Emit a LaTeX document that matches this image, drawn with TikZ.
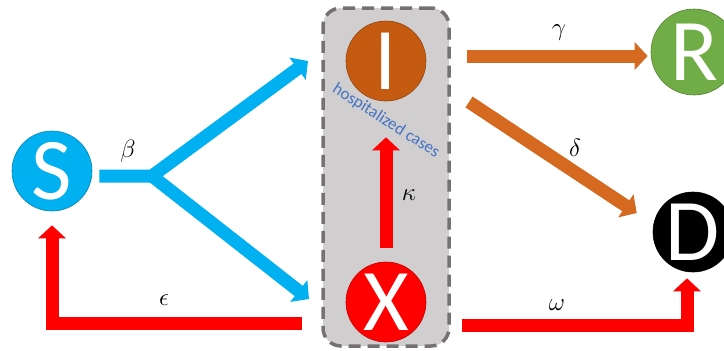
\RequirePackage{fix-cm}
\documentclass[tikz,border=0pt]{standalone}
\usepackage{fontspec}
\newfontfamily\letterfont{Carlito}
\usetikzlibrary{arrows.meta,calc}
\definecolor{sblue}{HTML}{00B0F0}
\definecolor{iorange}{HTML}{C55A11}
\definecolor{aorange}{HTML}{D5691F}
\definecolor{rgreen}{HTML}{70AD47}
\definecolor{boxgray}{HTML}{D0CECE}
\definecolor{dashgray}{HTML}{767171}
\definecolor{txtblue}{HTML}{4472C4}
\begin{document}
\begin{tikzpicture}[x=1pt,y=-1pt,
  state/.style={circle, draw=#1!75!black, line width=0.6pt, fill=#1, minimum size=80pt,
    inner sep=0pt, text=white, font=\letterfont\fontsize{88}{88}\selectfont},
  flow/.style={line width=13pt, -{Triangle[length=13pt,width=27pt]}, line join=miter, draw=#1},
  lbl/.style={inner sep=0pt, font=\fontsize{25}{25}\selectfont},
  casebox/.style={draw=dashgray, fill=boxgray, line width=3.5pt, dash pattern=on 12pt off 7pt,
    rounded corners=18pt, minimum width=126pt, minimum height=338pt}]
\useasboundingbox (0,0) rectangle (724,351);
\clip (0,0) rectangle (724,351);
\node[casebox] (box) at (386,177) {};
\node[state=sblue] (S) at (52,171) {S};
\node[state=iorange] (I) at (386,61) {I};
\node[state=red] (X) at (386,302) {X};
\node[state=rgreen, minimum size=86pt] (R) at (694,52) {R};
\node[state=black] (D) at (693,232) {D};
\node[rotate=-32.5, text=txtblue, font=\letterfont\fontsize{17}{17}\selectfont, inner sep=0pt] (hc) at (386,121) {hospitalized cases};
% coordinates
\coordinate (J) at (152,176);
\coordinate (Jin) at ($(S.east |- J)+(7,0)$);
\coordinate (It) at (308,61);
\coordinate (Xt) at (309,299);
\coordinate (e0) at (302,323);
\coordinate (g0) at (467,56);
\coordinate (d0) at (469,102);
\coordinate (w0) at (462,325);
% flows
\draw[flow=sblue, line join=round] (Jin) -- (J) -- (It);
\draw[flow=sblue, line cap=round] (J) -- (Xt);
\draw[flow=red] (e0) -| ($(S.south)+(0,14)$);
\draw[flow=red] ($(X.north)+(0,-14)$) -- ($(I.south)+(0,36)$);
\draw[flow=aorange] (g0) -- ($(R.west)+(-3,4)$);
\draw[flow=aorange] (d0) -- ($(D.west)+(-16,-19)$);
\draw[flow=red] (w0) -| ($(D.south)+(-6,6)$);
% labels
\node[lbl] (lb) at (128,151) {$\beta$};
\node[lbl] (le) at (164,300) {$\epsilon$};
\node[lbl] (lk) at (409,195) {$\kappa$};
\node[lbl] (lg) at (559,33) {$\gamma$};
\node[lbl] (ld) at (575,148) {$\delta$};
\node[lbl] (lw) at (557,305) {$\omega$};
\end{tikzpicture}
\end{document}
